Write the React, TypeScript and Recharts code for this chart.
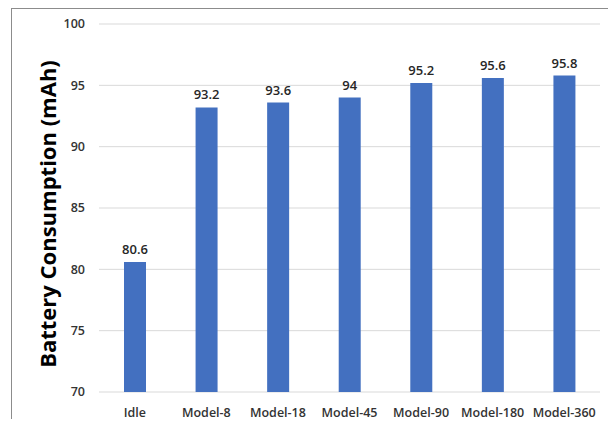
import React from 'react';
import { BarChart, Bar, XAxis, YAxis, CartesianGrid, LabelList } from 'recharts';

const categories = ['Idle', 'Model-8', 'Model-18', 'Model-45', 'Model-90', 'Model-180', 'Model-360'];
const consumption = [80.6, 93.2, 93.6, 94, 95.2, 95.6, 95.8];
const yTicks = [70, 75, 80, 85, 90, 95, 100];
const yTitle = 'Battery Consumption (mAh)';

const data = categories.map((name, i) => ({ name, value: consumption[i] }));

const FONT = '"Open Sans", "Liberation Sans", sans-serif';

const TitleLabel = () => (
  <text
    x={47}
    y={214}
    transform="rotate(-90 47 214)"
    textAnchor="middle"
    dominantBaseline="central"
    fontFamily={FONT}
    fontWeight={700}
    fontSize={22}
    fill="#000"
  >
    {yTitle}
  </text>
);

export default function App() {
  return (
    <div style={{ position: 'relative', margin: -8, width: 616, height: 427, background: '#fff', overflow: 'hidden' }}>
      <div
        style={{
          position: 'absolute',
          left: 11,
          top: 8,
          width: 602,
          height: 440,
          border: '1px solid #8c8c8c',
          boxSizing: 'border-box',
        }}
      />
      <div style={{ position: 'absolute', left: 0, top: 0 }}>
        <BarChart width={616} height={427} data={data} margin={{ top: 24, right: 16, bottom: 5, left: 60 }}>
          <CartesianGrid vertical={false} stroke="#d9d9d9" />
          <XAxis
            dataKey="name"
            axisLine={false}
            tickLine={false}
            height={30}
            tickMargin={10}
            interval={0}
            tick={{ fontFamily: FONT, fontSize: 12.5, fontWeight: 600, fill: '#333333' }}
          />
          <YAxis
            domain={[70, 100]}
            ticks={yTicks}
            width={39}
            axisLine={false}
            tickLine={false}
            tickMargin={8}
            interval={0}
            tick={{ fontFamily: FONT, fontSize: 12.5, fontWeight: 600, fill: '#333333' }}
            label={<TitleLabel />}
          />
          <Bar dataKey="value" fill="#4370c0" barSize={22} isAnimationActive={false}>
            <LabelList
              dataKey="value"
              position="top"
              offset={8}
              style={{ fontFamily: FONT, fontSize: 13, fontWeight: 600, fill: '#262626' }}
            />
          </Bar>
        </BarChart>
      </div>
    </div>
  );
}
